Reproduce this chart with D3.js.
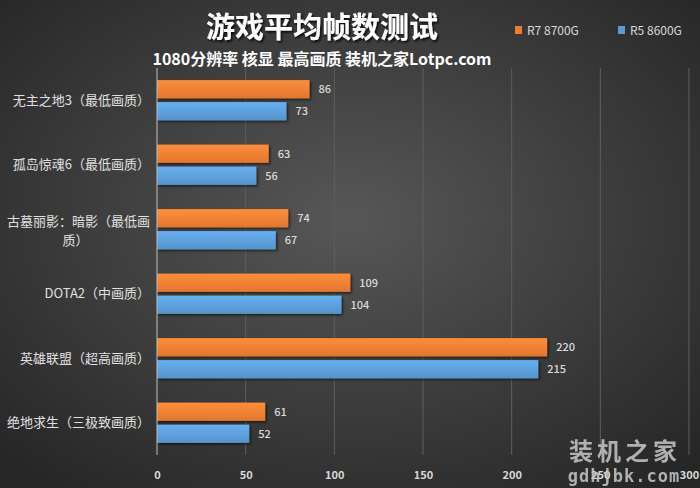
<!DOCTYPE html>
<html><head><meta charset="utf-8">
<script src="https://cdn.jsdelivr.net/npm/d3@7"></script>
<style>body{margin:0;background:#333;}svg{display:block;}</style>
</head><body>
<script>
const categories = ["无主之地3（最低画质）","孤岛惊魂6（最低画质）","古墓丽影：暗影（最低画质）","DOTA2（中画质）","英雄联盟（超高画质）","绝地求生（三极致画质）"];
const categoryLines = [["无主之地3（最低画质）"],["孤岛惊魂6（最低画质）"],["古墓丽影：暗影（最低画","质）"],["DOTA2（中画质）"],["英雄联盟（超高画质）"],["绝地求生（三极致画质）"]];
const seriesNames = ["R7 8700G","R5 8600G"];
const r7Values = [86,63,74,109,220,61];
const r5Values = [73,56,67,104,215,52];
const tickValues = [0,50,100,150,200,250,300];
const colors = ["#ed7d31","#5b9bd5"];

const W=700,H=488;
const svg=d3.select("body").append("svg").attr("width",W).attr("height",H);
const defs=svg.append("defs");
const bg=defs.append("radialGradient").attr("id","bg").attr("cx","50%").attr("cy","45%").attr("r","70%");
bg.append("stop").attr("offset","0%").attr("stop-color","#575757");
bg.append("stop").attr("offset","100%").attr("stop-color","#262626");
colors.forEach((c,i)=>{
  const g=defs.append("linearGradient").attr("id","bar"+i).attr("x1",0).attr("y1",0).attr("x2",0).attr("y2",1);
  g.append("stop").attr("offset","0%").attr("stop-color",d3.color(c).brighter(0.35));
  g.append("stop").attr("offset","100%").attr("stop-color",d3.color(c).darker(0.15));
});
const sh=defs.append("filter").attr("id","sh").attr("x","-10%").attr("y","-30%").attr("width","130%").attr("height","180%");
sh.append("feDropShadow").attr("dx",1.5).attr("dy",1.5).attr("stdDeviation",1.2).attr("flood-color","#000").attr("flood-opacity",0.6);
const tsh=defs.append("filter").attr("id","tsh");
tsh.append("feDropShadow").attr("dx",1.5).attr("dy",2).attr("stdDeviation",1).attr("flood-color","#000").attr("flood-opacity",0.8);

svg.append("rect").attr("width",W).attr("height",H).attr("fill","url(#bg)");

const x=d3.scaleLinear().domain([0,300]).range([157,689]);
const y=d3.scaleBand().domain(categories).range([68,455]);
const ys=d3.scaleBand().domain(seriesNames).range([0,y.bandwidth()]).paddingInner(0.17).paddingOuter(0.55);

svg.append("g").selectAll("line").data(tickValues.slice(1)).join("line")
  .attr("x1",d=>x(d)).attr("x2",d=>x(d)).attr("y1",68).attr("y2",455)
  .attr("stroke","#5e5e5e").attr("stroke-width",1);
const ax=svg.append("g").attr("transform","translate(0,455)").call(d3.axisBottom(x).tickValues(tickValues).tickSize(0).tickPadding(16));
ax.select(".domain").remove();
ax.selectAll("text").attr("fill","#d9d9d9").attr("font-size","11px").attr("font-weight","bold").attr("font-family","'Noto Sans CJK SC','Noto Sans',sans-serif");

const series=[r7Values,r5Values];
const g=svg.append("g");
series.forEach((vals,si)=>{
  g.selectAll(".b"+si).data(categories).join("rect")
    .attr("x",x(0)).attr("y",(d,i)=>y(d)+ys(seriesNames[si]))
    .attr("width",(d,i)=>x(vals[i])-x(0)).attr("height",ys.bandwidth())
    .attr("fill","url(#bar"+si+")").attr("filter","url(#sh)");
  g.selectAll(".l"+si).data(categories).join("text")
    .attr("x",(d,i)=>x(vals[i])+9).attr("y",(d,i)=>y(d)+ys(seriesNames[si])+ys.bandwidth()/2+4)
    .attr("fill","#d9d9d9").attr("font-size","11px").attr("font-weight","500")
    .attr("font-family","'Noto Sans CJK SC','Noto Sans',sans-serif")
    .text((d,i)=>vals[i]);
});
svg.append("line").attr("x1",x(0)).attr("x2",x(0)).attr("y1",68).attr("y2",455).attr("stroke","#bfbfbf").attr("stroke-width",1);

categories.forEach((c,i)=>{
  const lines=categoryLines[i];
  const cy=y(c)+y.bandwidth()/2;
  const t=svg.append("text").attr("fill","#e0e0e0").attr("font-size","13px")
    .attr("font-family","'Noto Sans CJK SC','Noto Sans',sans-serif");
  if(lines.length===1){
    t.attr("x",150).attr("y",cy+4.5).attr("text-anchor","end").text(lines[0]);
  } else {
    t.attr("x",150).attr("y",cy-3).attr("text-anchor","end").text(lines[0]);
    const w=t.node().getComputedTextLength();
    svg.append("text").attr("fill","#e0e0e0").attr("font-size","13px")
      .attr("font-family","'Noto Sans CJK SC','Noto Sans',sans-serif")
      .attr("x",147-w/2).attr("y",cy+16).attr("text-anchor","middle").text(lines[1]);
  }
});

svg.append("text").attr("x",322).attr("y",38).attr("text-anchor","middle").attr("fill","#fff")
  .attr("font-size","29px").attr("font-weight","bold").attr("filter","url(#tsh)")
  .attr("font-family","'Noto Sans CJK SC',sans-serif").text("游戏平均帧数测试");
svg.append("text").attr("x",322).attr("y",65).attr("text-anchor","middle").attr("fill","#fff")
  .attr("font-size","16px").attr("font-weight","bold")
  .attr("font-family","'Noto Sans CJK SC',sans-serif").text("1080分辨率 核显 最高画质 装机之家Lotpc.com");

const lx=[515,618];
seriesNames.forEach((n,i)=>{
  svg.append("rect").attr("x",lx[i]).attr("y",26).attr("width",7).attr("height",8).attr("fill",colors[i]);
  svg.append("text").attr("x",lx[i]+12).attr("y",35).attr("fill","#d9d9d9").attr("font-size","12px")
    .attr("font-family","'Noto Sans CJK SC','Noto Sans',sans-serif").text(n);
});

svg.append("text").attr("x",625).attr("y",460).attr("text-anchor","middle").attr("fill","#c8c8c8").attr("opacity",0.85)
  .attr("font-size","24px").attr("font-weight","bold").attr("letter-spacing","4px")
  .attr("font-family","'Noto Sans CJK SC',sans-serif").text("装机之家");
svg.append("text").attr("x",624).attr("y",482).attr("text-anchor","middle").attr("fill","#c8c8c8").attr("opacity",0.85)
  .attr("font-size","17px").attr("font-weight","bold").attr("letter-spacing","1px")
  .attr("font-family","'DejaVu Sans Mono',monospace").text("gdhjbk.com");
</script>
</body></html>
